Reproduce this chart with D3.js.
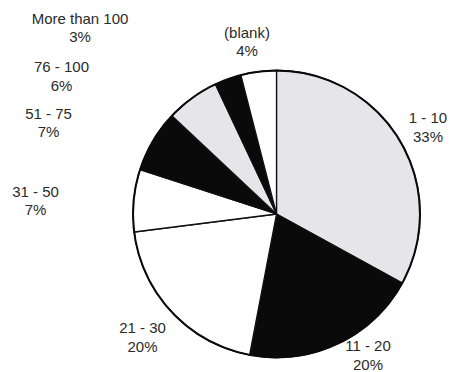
<!DOCTYPE html>
<html>
<head>
<meta charset="utf-8">
<script src="https://cdn.jsdelivr.net/npm/d3@7/dist/d3.min.js"></script>
<style>
  html, body { margin: 0; padding: 0; background: #ffffff; }
  svg { display: block; }
  text { font-family: "Liberation Sans", Arial, Helvetica, sans-serif; }
</style>
</head>
<body>
<svg id="chart" width="450" height="372"></svg>
<script>
// Share of records by size band (percent of total)
const categories = ["1 - 10", "11 - 20", "21 - 30", "31 - 50", "51 - 75", "76 - 100", "More than 100", "(blank)"];
const shares = [33, 20, 20, 7, 7, 6, 3, 4];
const shareLabels = ["33%", "20%", "20%", "7%", "7%", "6%", "3%", "4%"];

// Slice fills, in category order
const sliceFills = ["#e6e6ea", "#0a0a0a", "#ffffff", "#ffffff", "#0a0a0a", "#e6e6ea", "#0a0a0a", "#ffffff"];

// Label anchors (centre x, first baseline), in category order
const labelAnchors = [
  [428, 123], [368, 351], [142.5, 333], [35.5, 196.5],
  [48.5, 118.5], [61.5, 72], [80, 23.5], [247, 37.5]
];

const svg = d3.select("#chart");
const cx = 276.5, cy = 214, radius = 143.5;

const pie = d3.pie().sort(null).value(d => d.value).startAngle(0).endAngle(2 * Math.PI);
const arc = d3.arc().innerRadius(0).outerRadius(radius);

const rows = categories.map((c, i) => ({ name: c, value: shares[i], fill: sliceFills[i], pct: shareLabels[i], at: labelAnchors[i] }));
const arcs = pie(rows);

const g = svg.append("g").attr("transform", `translate(${cx},${cy})`);

g.selectAll("path.slice")
  .data(arcs)
  .join("path")
  .attr("class", "slice")
  .attr("d", arc)
  .attr("fill", d => d.data.fill)
  .attr("stroke", "#111")
  .attr("stroke-width", 1.3)
  .attr("stroke-linejoin", "round");

// Outer rim
g.append("circle")
  .attr("r", radius)
  .attr("fill", "none")
  .attr("stroke", "#0a0a0a")
  .attr("stroke-width", 2);

// Category and share labels
const labels = svg.selectAll("g.label")
  .data(arcs)
  .join("g")
  .attr("class", "label")
  .attr("transform", d => `translate(${d.data.at[0]},${d.data.at[1]})`);

labels.append("text")
  .attr("text-anchor", "middle")
  .attr("font-size", 15)
  .attr("fill", "#2a2a2a")
  .text(d => d.data.name);

labels.append("text")
  .attr("text-anchor", "middle")
  .attr("y", 18.5)
  .attr("font-size", 15)
  .attr("fill", "#2a2a2a")
  .text(d => d.data.pct);
</script>
</body>
</html>
